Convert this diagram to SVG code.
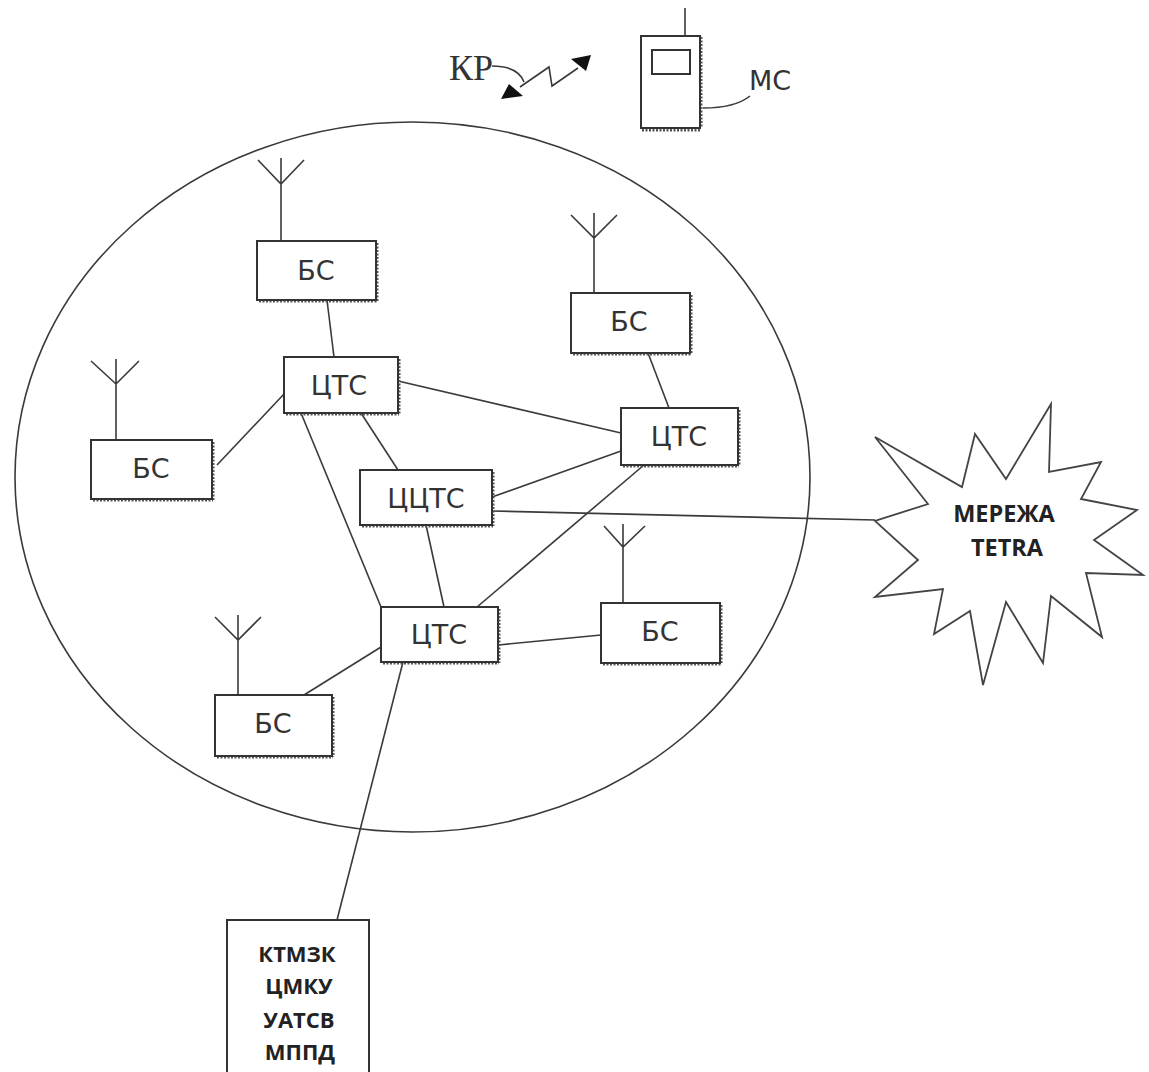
<svg xmlns="http://www.w3.org/2000/svg" width="1149" height="1072" viewBox="0 0 1149 1072">
<style>
.l{fill:none;stroke:#3a3a3a;stroke-width:1.6}
.b{fill:#fff;stroke:#333;stroke-width:2}
.s{fill:none;stroke:#555;stroke-width:3;stroke-dasharray:2 1.5}
.t{font-family:"DejaVu Sans",sans-serif;font-size:27px;fill:#333;text-anchor:middle}
.k{font-family:"Open Sans","Noto Sans",sans-serif;font-size:22px;font-weight:700;fill:#222;text-anchor:middle}
.h{font-family:"Liberation Serif",serif;font-size:36px;fill:#333;text-anchor:middle}
</style>
<rect width="1149" height="1072" fill="#fff"/>
<ellipse id="cell" cx="412.500" cy="477" rx="397.500" ry="355" class="l"/>
<g id="connectors" class="l">
<path d="M327 300L334 357"/>
<path d="M284 394L217 465"/>
<path d="M398 381L621 433"/>
<path d="M648 353L669 408"/>
<path d="M361 413L398 470"/>
<path d="M301 413L381 607"/>
<path d="M492 497L621 451"/>
<path d="M492 511L875 520"/>
<path d="M426 525L444 607"/>
<path d="M644 465L477 607"/>
<path d="M498 645L601 635"/>
<path d="M381 647L304 695"/>
<path d="M403 662L337 920"/>
<path d="M492 66Q518 66 524 82"/>
<path d="M703 108Q735 108 750 96"/>
<path d="M520 87L549 67L552 86L578 68"/>
</g>
<g id="kr-link">
<path d="M501 99L509 84L523 96Z" fill="#111"/>
<path d="M591 55L571 59L586 71Z" fill="#111"/>
<text class="h" x="471" y="80">КР</text>
</g>
<g id="ms">
<path class="s" d="M701 37V128M642 130H701"/>
<rect class="b" x="641" y="36" width="59" height="92"/>
<rect class="b" x="652" y="50" width="38" height="24"/>
<path class="l" d="M685 8V36"/>
<text class="t" x="770" y="90">МС</text>
</g>
<g id="node-bs1"><path class="l" d="M281 241V184M258 160L281 184L304 160M281 184V158"/><path class="s" d="M377 243V301M259 301H377"/><rect class="b" x="257" y="241" width="119" height="59"/><text class="t" x="316" y="280">БС</text></g>
<g id="node-bs2"><path class="l" d="M594 293V238M571 215L594 238L617 215M594 238V213"/><path class="s" d="M691 295V354M573 354H691"/><rect class="b" x="571" y="293" width="119" height="60"/><text class="t" x="629" y="331">БС</text></g>
<g id="node-bs3"><path class="l" d="M116 440V384M91 361L116 384L139 361M116 384V359"/><path class="s" d="M213 442V500M93 500H213"/><rect class="b" x="91" y="440" width="121" height="59"/><text class="t" x="151" y="478">БС</text></g>
<g id="node-bs4"><path class="l" d="M623 603V547M604 526L623 547L645 526M623 547V524"/><path class="s" d="M721 605V664M603 664H721"/><rect class="b" x="601" y="603" width="119" height="60"/><text class="t" x="660" y="641">БС</text></g>
<g id="node-bs5"><path class="l" d="M238 695V640M215 617L238 640L261 617M238 640V615"/><path class="s" d="M333 697V757M217 757H333"/><rect class="b" x="215" y="695" width="117" height="61"/><text class="t" x="273" y="733">БС</text></g>
<g id="node-cts1"><path class="s" d="M399 359V414M286 414H399"/><rect class="b" x="284" y="357" width="114" height="56"/><text class="t" x="339" y="395">ЦТС</text></g>
<g id="node-cts2"><path class="s" d="M739 410V466M623 466H739"/><rect class="b" x="621" y="408" width="117" height="57"/><text class="t" x="679" y="446">ЦТС</text></g>
<g id="node-cts3"><path class="s" d="M499 609V663M383 663H499"/><rect class="b" x="381" y="607" width="117" height="55"/><text class="t" x="439" y="644">ЦТС</text></g>
<g id="node-ccts"><path class="s" d="M493 472V526M362 526H493"/><rect class="b" x="360" y="470" width="132" height="55"/><text class="t" x="426" y="508">ЦЦТС</text></g>
<g id="tetra">
<path fill="#fff" stroke="#444" stroke-width="1.800" d="M875 437L962 487L975 434L1006 479L1051 404L1049 472L1101 462L1081 499L1137 510L1094 540L1143 575L1086 573L1102 637L1051 596L1043 663L1006 602L983 685L970 611L934 634L943 589L875 597L918 560L875 521L928 504Z"/>
<text class="k" x="1004" y="522" font-size="23.500" style="font-size:23.500px">МЕРЕЖА</text>
<text class="k" x="1007" y="556" style="font-size:23.500px">TETRA</text>
</g>
<g id="control">
<rect class="b" x="227" y="920" width="142" height="160"/>
<text class="k" x="297" y="962">КТМЗК</text>
<text class="k" x="299" y="994">ЦМКУ</text>
<text class="k" x="299" y="1028">УАТСВ</text>
<text class="k" x="300" y="1060">МППД</text>
</g>
</svg>
